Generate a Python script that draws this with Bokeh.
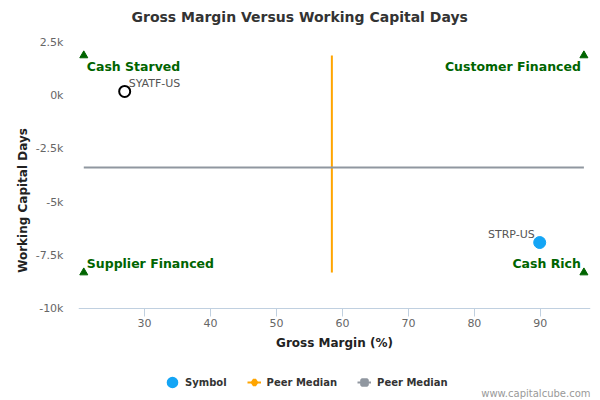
from bokeh.plotting import figure
from bokeh.models import Range1d, FixedTicker, Label, Legend, LegendItem, ColumnDataSource
from bokeh.core.properties import value
from bokeh.embed import file_html
from bokeh.resources import INLINE

# ---- data ----
chart_title = "Gross Margin Versus Working Capital Days"
x_title = "Gross Margin (%)"
y_title = "Working Capital Days"
credit = "www.capitalcube.com"

symbols = ["SYATF-US", "STRP-US"]
gross_margin = [27.0, 89.9]
wc_days = [200, -6900]

peer_median_gm = 58.4
peer_median_wcd = -3370

quad_names = ["Cash Starved", "Customer Financed", "Supplier Financed", "Cash Rich"]
quad_x = [20.8, 96.6, 20.8, 96.6]
quad_y = [1890, 1890, -8310, -8310]

x_min, x_max = 20.0, 97.6
y_min, y_max = -10000, 2500
x_ticks = [30, 40, 50, 60, 70, 80, 90]
y_ticks = [2500, 0, -2500, -5000, -7500, -10000]
y_tick_labels = ["2.5k", "0k", "-2.5k", "-5k", "-7.5k", "-10k"]

# ---- layout (pixels) ----
W, H = 592, 400
LEFT, RIGHT = 78, 2
PLOT_TOP, PLOT_BOTTOM = 42, 308          # pixel rows of y_max / y_min
per_px = (y_max - y_min) / (PLOT_BOTTOM - PLOT_TOP)
y_lo = y_min - (H - PLOT_BOTTOM) * per_px
y_hi = y_max + PLOT_TOP * per_px

FONT = "DejaVu Sans"
GREEN = "#006400"
BLUE = "#14A5F5"
ORANGE = "#FFA500"
GRAY = "#9097A0"
AXIS = "#C0D0E0"

p = figure(width=W, height=H, output_backend="svg", toolbar_location=None,
           x_range=Range1d(x_min, x_max), y_range=Range1d(y_lo, y_hi),
           min_border_left=LEFT, min_border_right=RIGHT, min_border_top=0, min_border_bottom=0)
p.outline_line_color = None
p.grid.visible = False
p.background_fill_color = "white"
p.border_fill_color = "white"

# axes
p.xaxis.fixed_location = y_min
p.xaxis.ticker = FixedTicker(ticks=x_ticks)
p.xaxis.axis_line_color = AXIS
p.xaxis.major_tick_line_color = AXIS
p.xaxis.major_tick_out = 8
p.xaxis.major_tick_in = 0
p.xaxis.minor_tick_line_color = None
p.xaxis.major_label_standoff = 2
p.xaxis.axis_label = x_title
p.xaxis.axis_label_standoff = 6

p.yaxis.ticker = FixedTicker(ticks=y_ticks)
p.yaxis.major_label_overrides = {t: l for t, l in zip(y_ticks, y_tick_labels)}
p.yaxis.axis_line_color = None
p.yaxis.major_tick_line_color = None
p.yaxis.minor_tick_line_color = None
p.yaxis.major_tick_out = 0
p.yaxis.major_tick_in = 0
p.yaxis.major_label_standoff = 15
p.yaxis.axis_label = y_title
p.yaxis.axis_label_standoff = 3

for ax in (p.xaxis[0], p.yaxis[0]):
    ax.major_label_text_font = FONT
    ax.major_label_text_font_size = "11px"
    ax.major_label_text_color = "#666666"
    ax.axis_label_text_font = FONT
    ax.axis_label_text_font_size = "12px"
    ax.axis_label_text_font_style = "bold"
    ax.axis_label_text_color = "#222222"

# peer median lines
orange_line = p.line(x=[peer_median_gm, peer_median_gm], y=[quad_y[0], quad_y[2]],
                     line_color=ORANGE, line_width=2)
gray_line = p.line(x=[quad_x[0], quad_x[1]], y=[peer_median_wcd, peer_median_wcd],
                   line_color=GRAY, line_width=2)

# quadrant markers and names
quad_src = ColumnDataSource(dict(
    x=quad_x, y=quad_y, name=quad_names,
    align=["left" if x < peer_median_gm else "right" for x in quad_x],
    xoff=[3 if x < peer_median_gm else -3 for x in quad_x],
    yoff=[11 if y > peer_median_wcd else -9 for y in quad_y],
))
p.scatter("x", "y", source=quad_src, marker="triangle", size=8, color=GREEN)
p.text("x", "y", text="name", source=quad_src, text_align="align", x_offset="xoff", y_offset="yoff",
       text_baseline="middle", text_color=GREEN, text_font=value(FONT),
       text_font_size=value("12.5px"), text_font_style="bold")

# company points
p.scatter([gross_margin[0]], [wc_days[0]], size=11, fill_color="white", line_color="black", line_width=2)
p.scatter([gross_margin[1]], [wc_days[1]], size=12, color=BLUE)
p.text([gross_margin[0]], [wc_days[0]], text=[symbols[0]], x_offset=4, y_offset=-8,
       text_align="left", text_baseline="middle", text_color="#555555",
       text_font=value(FONT), text_font_size=value("11px"))
p.text([gross_margin[1]], [wc_days[1]], text=[symbols[1]], x_offset=-5, y_offset=-8,
       text_align="right", text_baseline="middle", text_color="#555555",
       text_font=value(FONT), text_font_size=value("11px"))

# legend swatches (not drawn in the plot: NaN positions)
nan = float("nan")
sym_dummy = p.scatter(x=[nan], y=[nan], marker="circle", size=6, fill_color=BLUE,
                      line_color=BLUE, line_width=6)
dia_dummy = p.scatter(x=[nan], y=[nan], marker="diamond", size=6, fill_color=ORANGE,
                      line_color=ORANGE, line_width=3.5)
sq_dummy = p.scatter(x=[nan], y=[nan], marker="square", size=6, fill_color=GRAY,
                     line_color=GRAY, line_width=3)

legend = Legend(items=[
    LegendItem(label="Symbol", renderers=[sym_dummy]),
    LegendItem(label="Peer Median", renderers=[orange_line, dia_dummy]),
    LegendItem(label="Peer Median", renderers=[gray_line, sq_dummy]),
], orientation="horizontal", location=(165 - LEFT, H - 389), border_line_color=None,
   background_fill_alpha=0, label_text_font=FONT, label_text_font_size="10px",
   label_text_font_style="bold", label_text_color="#333333",
   glyph_width=14, glyph_height=14, spacing=20, padding=0, margin=0, label_standoff=6)
p.add_layout(legend, "center")

# title and credit
p.add_layout(Label(x=131 - LEFT, y=H - 16, x_units="screen", y_units="screen", text=chart_title,
                   text_align="left", text_baseline="middle", text_font=FONT,
                   text_font_size="14px", text_font_style="bold", text_color="#333333"))
p.add_layout(Label(x=W - RIGHT - LEFT, y=H - 393, x_units="screen", y_units="screen", text=credit,
                   text_align="right", text_baseline="middle", text_font=FONT,
                   text_font_size="10px", text_color="#999999"))

open("out.html", "w").write(file_html(p, INLINE))
